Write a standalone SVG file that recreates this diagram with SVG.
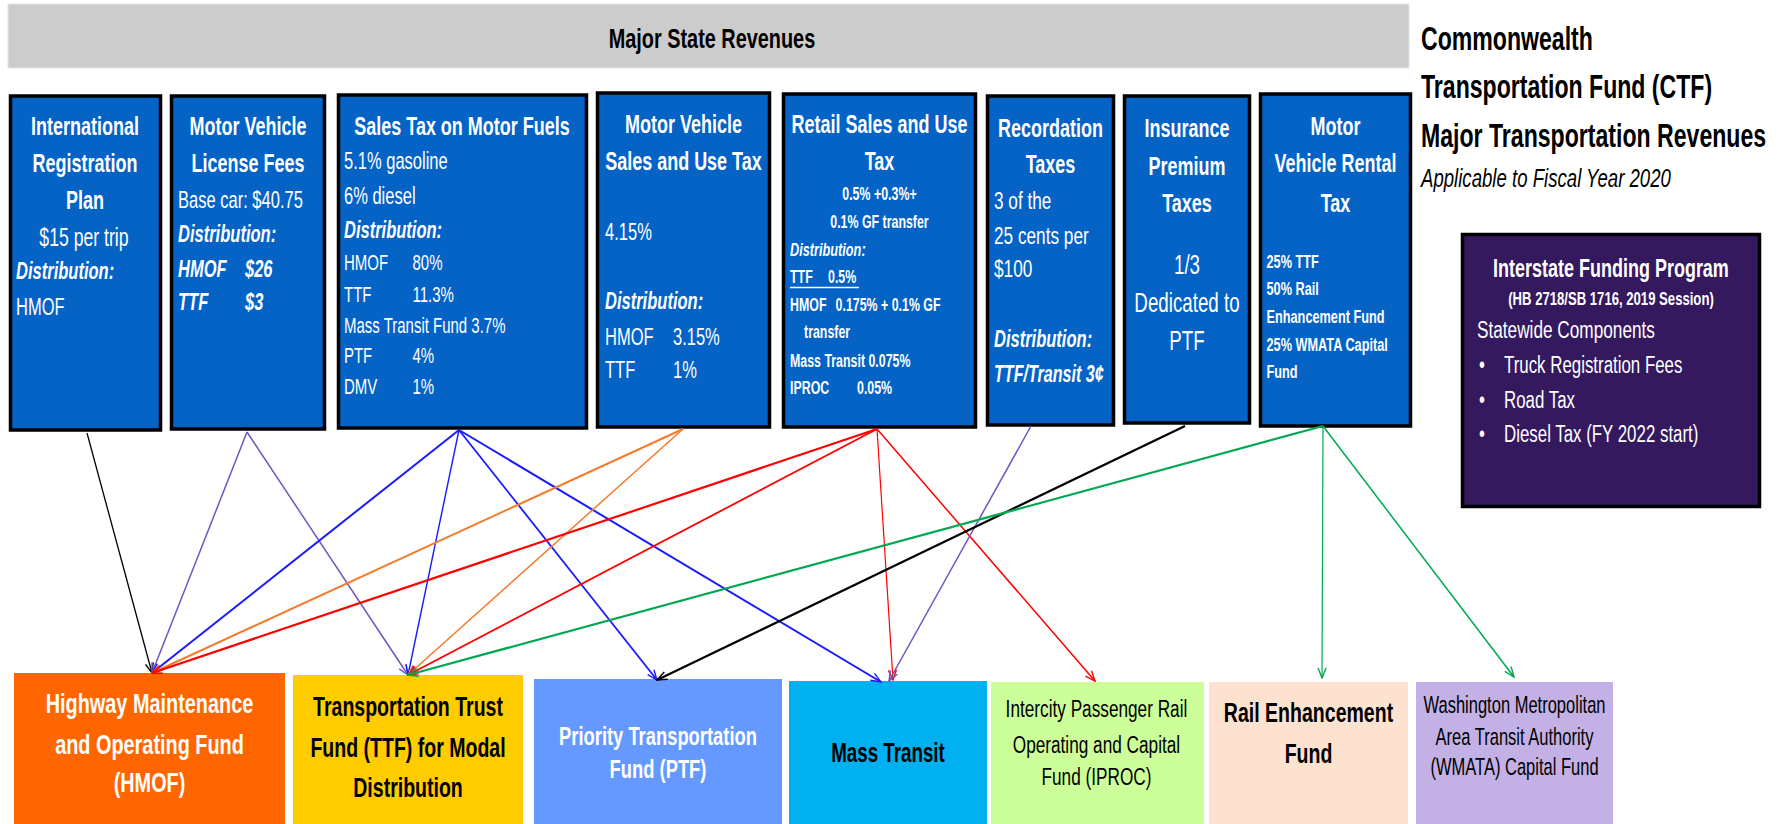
<svg xmlns="http://www.w3.org/2000/svg" width="1783" height="824" viewBox="0 0 1783 824">
<style>
text{font-family:"Liberation Sans",Arial,sans-serif;fill:#fff}
.b{font-weight:bold}
.i{font-style:italic}
.c{text-anchor:middle}
.k{fill:#000}
.src{fill:#0563C6;stroke:#000;stroke-width:3.5}
.ttl{font-weight:bold;font-size:25.7px;text-anchor:middle}
.cn line{fill:none}
</style>
<defs>
<marker id="mk" viewBox="0 0 12 10" refX="11" refY="5" markerWidth="12" markerHeight="10" markerUnits="userSpaceOnUse" orient="auto"><path d="M1,1 L11,5 L1,9" fill="none" stroke="#000" stroke-width="1.4"/></marker>
<marker id="mp" viewBox="0 0 12 10" refX="11" refY="5" markerWidth="12" markerHeight="10" markerUnits="userSpaceOnUse" orient="auto"><path d="M1,1 L11,5 L1,9" fill="none" stroke="#6E56C2" stroke-width="1.4"/></marker>
<marker id="mb" viewBox="0 0 12 10" refX="11" refY="5" markerWidth="12" markerHeight="10" markerUnits="userSpaceOnUse" orient="auto"><path d="M1,1 L11,5 L1,9" fill="none" stroke="#1a1aff" stroke-width="1.4"/></marker>
<marker id="mo" viewBox="0 0 12 10" refX="11" refY="5" markerWidth="12" markerHeight="10" markerUnits="userSpaceOnUse" orient="auto"><path d="M1,1 L11,5 L1,9" fill="none" stroke="#F57A2A" stroke-width="1.4"/></marker>
<marker id="mr" viewBox="0 0 12 10" refX="11" refY="5" markerWidth="12" markerHeight="10" markerUnits="userSpaceOnUse" orient="auto"><path d="M1,1 L11,5 L1,9" fill="none" stroke="#ff0000" stroke-width="1.4"/></marker>
<marker id="mg" viewBox="0 0 12 10" refX="11" refY="5" markerWidth="12" markerHeight="10" markerUnits="userSpaceOnUse" orient="auto"><path d="M1,1 L11,5 L1,9" fill="none" stroke="#00A850" stroke-width="1.4"/></marker>
</defs>
<rect width="1783" height="824" fill="#fff"/>

<g id="header">
<rect x="8" y="4" width="1401" height="64" fill="#CCCCCC" stroke="#e4e4e4" stroke-width="1"/>
<g transform="scale(0.7,1)"><text class="b c k" x="1017.1" y="48" font-size="28.4">Major State Revenues</text></g>
</g>

<g id="title">
<g transform="scale(0.7,1)" font-size="33">
<text class="b k" x="2030" y="50">Commonwealth</text>
<text class="b k" x="2030" y="98">Transportation Fund (CTF)</text>
<text class="b k" x="2030" y="147">Major Transportation Revenues</text>
<text class="i k" x="2030" y="187" font-size="26.6">Applicable to Fiscal Year 2020</text>
</g>
</g>

<g id="irp">
<rect class="src" x="10.5" y="96" width="150" height="334"/>
<g transform="scale(0.7,1)">
<text class="ttl" x="121.4" y="135">International</text>
<text class="ttl" x="121.4" y="172">Registration</text>
<text class="ttl" x="121.4" y="209">Plan</text>
<text class="c" x="120" y="246" font-size="25.2">$15 per trip</text>
<text class="b i" x="22.9" y="279" font-size="23.6">Distribution:</text>
<text x="22.9" y="315" font-size="23.6">HMOF</text>
</g>
</g>

<g id="mvlf">
<rect class="src" x="171.5" y="96" width="153" height="333"/>
<g transform="scale(0.7,1)">
<text class="ttl" x="354.3" y="135">Motor Vehicle</text>
<text class="ttl" x="354.3" y="172">License Fees</text>
<text x="254.3" y="208" font-size="23.6">Base car: $40.75</text>
<text class="b i" x="254.3" y="242" font-size="23.6">Distribution:</text>
<text class="b i" x="254.3" y="277" font-size="23.6">HMOF<tspan x="350">$26</tspan></text>
<text class="b i" x="254.3" y="310" font-size="23.6">TTF<tspan x="350">$3</tspan></text>
</g>
</g>

<g id="stmf">
<rect class="src" x="338.5" y="95" width="248" height="333"/>
<g transform="scale(0.7,1)">
<text class="ttl" x="660" y="135">Sales Tax on Motor Fuels</text>
<text x="491.4" y="169" font-size="23.6">5.1% gasoline</text>
<text x="491.4" y="204" font-size="23.6">6% diesel</text>
<text class="b i" x="491.4" y="238" font-size="23.6">Distribution:</text>
<g font-size="21.4">
<text x="491.4" y="270">HMOF<tspan x="589.3">80%</tspan></text>
<text x="491.4" y="302">TTF<tspan x="589.3">11.3%</tspan></text>
<text x="491.4" y="333">Mass Transit Fund 3.7%</text>
<text x="491.4" y="363">PTF<tspan x="589.3">4%</tspan></text>
<text x="491.4" y="394">DMV<tspan x="589.3">1%</tspan></text>
</g>
</g>
</g>

<g id="mvsut">
<rect class="src" x="597.5" y="93" width="172" height="334"/>
<g transform="scale(0.7,1)">
<text class="ttl" x="976.4" y="133">Motor Vehicle</text>
<text class="ttl" x="976.4" y="170">Sales and Use Tax</text>
<text x="864.3" y="240" font-size="23.6">4.15%</text>
<text class="b i" x="864.3" y="309" font-size="23.6">Distribution:</text>
<text x="864.3" y="345" font-size="23.6">HMOF<tspan x="961.4">3.15%</tspan></text>
<text x="864.3" y="378" font-size="23.6">TTF<tspan x="961.4">1%</tspan></text>
</g>
</g>

<g id="rsut">
<rect class="src" x="783.5" y="94" width="192" height="333"/>
<line x1="790" y1="287.5" x2="859" y2="287.5" stroke="#fff" stroke-width="1.5"/>
<g transform="scale(0.7,1)">
<text class="ttl" x="1256.4" y="133">Retail Sales and Use</text>
<text class="ttl" x="1256.4" y="170">Tax</text>
<g class="b" font-size="17.7">
<text class="c" x="1256.4" y="200">0.5% +0.3%+</text>
<text class="c" x="1256.4" y="228">0.1% GF transfer</text>
<text class="i" x="1128.6" y="256" font-size="18.2">Distribution:</text>
<text x="1128.6" y="283">TTF<tspan x="1182.9">0.5%</tspan></text>
<text x="1128.6" y="311">HMOF<tspan x="1193.7">0.175% + 0.1% GF</tspan></text>
<text x="1148.6" y="338">transfer</text>
<text x="1128.6" y="367">Mass Transit 0.075%</text>
<text x="1128.6" y="394">IPROC<tspan x="1224.3">0.05%</tspan></text>
</g>
</g>
</g>

<g id="rec">
<rect class="src" x="987.5" y="96" width="126" height="329"/>
<g transform="scale(0.7,1)">
<text class="ttl" x="1500.7" y="137">Recordation</text>
<text class="ttl" x="1500.7" y="173">Taxes</text>
<text x="1420" y="209" font-size="24.6">3 of the</text>
<text x="1420" y="244" font-size="24.6">25 cents per</text>
<text x="1420" y="277" font-size="24.6">$100</text>
<text class="b i" x="1420" y="347" font-size="23.6">Distribution:</text>
<text class="b i" x="1420" y="382" font-size="23">TTF/Transit 3¢</text>
</g>
</g>

<g id="ins">
<rect class="src" x="1124.5" y="96" width="125" height="327"/>
<g transform="scale(0.7,1)">
<text class="ttl" x="1695.7" y="137">Insurance</text>
<text class="ttl" x="1695.7" y="175">Premium</text>
<text class="ttl" x="1695.7" y="212">Taxes</text>
<text class="c" x="1695.7" y="274" font-size="26.8">1/3</text>
<text class="c" x="1695.7" y="312" font-size="26.8">Dedicated to</text>
<text class="c" x="1695.7" y="350" font-size="26.8">PTF</text>
</g>
</g>

<g id="rent">
<rect class="src" x="1260.5" y="94" width="150" height="332"/>
<g transform="scale(0.7,1)">
<text class="ttl" x="1907.9" y="135">Motor</text>
<text class="ttl" x="1907.9" y="172">Vehicle Rental</text>
<text class="ttl" x="1907.9" y="212">Tax</text>
<g class="b" font-size="18.2">
<text x="1809.3" y="268">25% TTF</text>
<text x="1809.3" y="295">50% Rail</text>
<text x="1809.3" y="323">Enhancement Fund</text>
<text x="1809.3" y="351">25% WMATA Capital</text>
<text x="1809.3" y="378">Fund</text>
</g>
</g>
</g>

<g id="ifp">
<rect x="1462.5" y="234.5" width="297" height="272" fill="#35195F" stroke="#000" stroke-width="3.5"/>
<g transform="scale(0.7,1)">
<text class="b c" x="2301.4" y="277" font-size="25.7">Interstate Funding Program</text>
<text class="b c" x="2301.4" y="305" font-size="18.75">(HB 2718/SB 1716, 2019 Session)</text>
<text x="2110" y="338" font-size="24.6">Statewide Components</text>
<g font-size="24.1">
<text x="2112.9" y="373">•<tspan x="2148.6">Truck Registration Fees</tspan></text>
<text x="2112.9" y="408">•<tspan x="2148.6">Road Tax</tspan></text>
<text x="2112.9" y="442">•<tspan x="2148.6">Diesel Tax (FY 2022 start)</tspan></text>
</g>
</g>
</g>

<g id="hmof">
<rect x="14" y="673" width="271" height="151" fill="#FF6600"/>
<g transform="scale(0.7,1)" font-size="28.4">
<text class="b c" x="213.6" y="713">Highway Maintenance</text>
<text class="b c" x="213.6" y="754">and Operating Fund</text>
<text class="b c" x="213.6" y="792">(HMOF)</text>
</g>
</g>

<g id="ttf">
<rect x="293" y="675" width="230" height="149" fill="#FFCC00"/>
<g transform="scale(0.7,1)" font-size="27.9">
<text class="b c k" x="582.9" y="716">Transportation Trust</text>
<text class="b c k" x="582.9" y="757">Fund (TTF) for Modal</text>
<text class="b c k" x="582.9" y="797">Distribution</text>
</g>
</g>

<g id="ptf">
<rect x="534" y="679" width="248" height="145" fill="#6699FF"/>
<g transform="scale(0.7,1)" font-size="26.25">
<text class="b c" x="940" y="745">Priority Transportation</text>
<text class="b c" x="940" y="778">Fund (PTF)</text>
</g>
</g>

<g id="mt">
<rect x="789" y="681" width="198" height="143" fill="#00B0F0"/>
<g transform="scale(0.7,1)">
<text class="b c k" x="1268.6" y="762" font-size="26.8">Mass Transit</text>
</g>
</g>

<g id="iproc">
<rect x="991" y="682" width="213" height="142" fill="#CCFF99"/>
<g transform="scale(0.7,1)" font-size="24.6">
<text class="c k" x="1566.4" y="717">Intercity Passenger Rail</text>
<text class="c k" x="1566.4" y="753">Operating and Capital</text>
<text class="c k" x="1566.4" y="785">Fund (IPROC)</text>
</g>
</g>

<g id="ref">
<rect x="1209" y="682" width="199" height="142" fill="#FDE2CF"/>
<g transform="scale(0.7,1)" font-size="27.9">
<text class="b c k" x="1869.3" y="722">Rail Enhancement</text>
<text class="b c k" x="1869.3" y="763">Fund</text>
</g>
</g>

<g id="wmata">
<rect x="1416" y="682" width="197" height="142" fill="#C3B1E6"/>
<g transform="scale(0.7,1)" font-size="23.6">
<text class="c k" x="2163.6" y="713">Washington Metropolitan</text>
<text class="c k" x="2163.6" y="745">Area Transit Authority</text>
<text class="c k" x="2163.6" y="775">(WMATA) Capital Fund</text>
</g>
</g>

<g id="connectors" class="cn">
<line x1="87" y1="433" x2="152" y2="673" stroke="#000" stroke-width="1.3" marker-end="url(#mk)"/>
<line x1="247" y1="432" x2="152" y2="673" stroke="#6E56C2" stroke-width="1.5" marker-end="url(#mp)"/>
<line x1="247" y1="432" x2="408" y2="675" stroke="#6E56C2" stroke-width="1.5" marker-end="url(#mp)"/>
<line x1="459" y1="430" x2="152" y2="673" stroke="#1a1aff" stroke-width="2" marker-end="url(#mb)"/>
<line x1="459" y1="430" x2="408" y2="675" stroke="#1a1aff" stroke-width="1.4" marker-end="url(#mb)"/>
<line x1="459" y1="430" x2="657" y2="680" stroke="#1a1aff" stroke-width="1.8" marker-end="url(#mb)"/>
<line x1="459" y1="430" x2="881" y2="682" stroke="#1a1aff" stroke-width="2" marker-end="url(#mb)"/>
<line x1="683" y1="429" x2="152" y2="673" stroke="#F57A2A" stroke-width="2" marker-end="url(#mo)"/>
<line x1="683" y1="429" x2="408" y2="675" stroke="#F57A2A" stroke-width="1.5" marker-end="url(#mo)"/>
<line x1="877" y1="429" x2="152" y2="673" stroke="#ff0000" stroke-width="2.2" marker-end="url(#mr)"/>
<line x1="877" y1="429" x2="408" y2="675" stroke="#ff0000" stroke-width="1.8" marker-end="url(#mr)"/>
<line x1="877" y1="429" x2="893" y2="680" stroke="#ff0000" stroke-width="1.2" marker-end="url(#mr)"/>
<line x1="877" y1="429" x2="1095" y2="681" stroke="#ff0000" stroke-width="1.5" marker-end="url(#mr)"/>
<line x1="1031" y1="426" x2="889" y2="681" stroke="#6E56C2" stroke-width="1.5" marker-end="url(#mp)"/>
<line x1="1185" y1="426" x2="657" y2="680" stroke="#000" stroke-width="2.2" marker-end="url(#mk)"/>
<line x1="1323" y1="426" x2="408" y2="675" stroke="#00A850" stroke-width="2.2" marker-end="url(#mg)"/>
<line x1="1323" y1="426" x2="1322" y2="678" stroke="#00A850" stroke-width="1.2" marker-end="url(#mg)"/>
<line x1="1323" y1="426" x2="1514" y2="677" stroke="#00A850" stroke-width="1.5" marker-end="url(#mg)"/>
</g>
</svg>
